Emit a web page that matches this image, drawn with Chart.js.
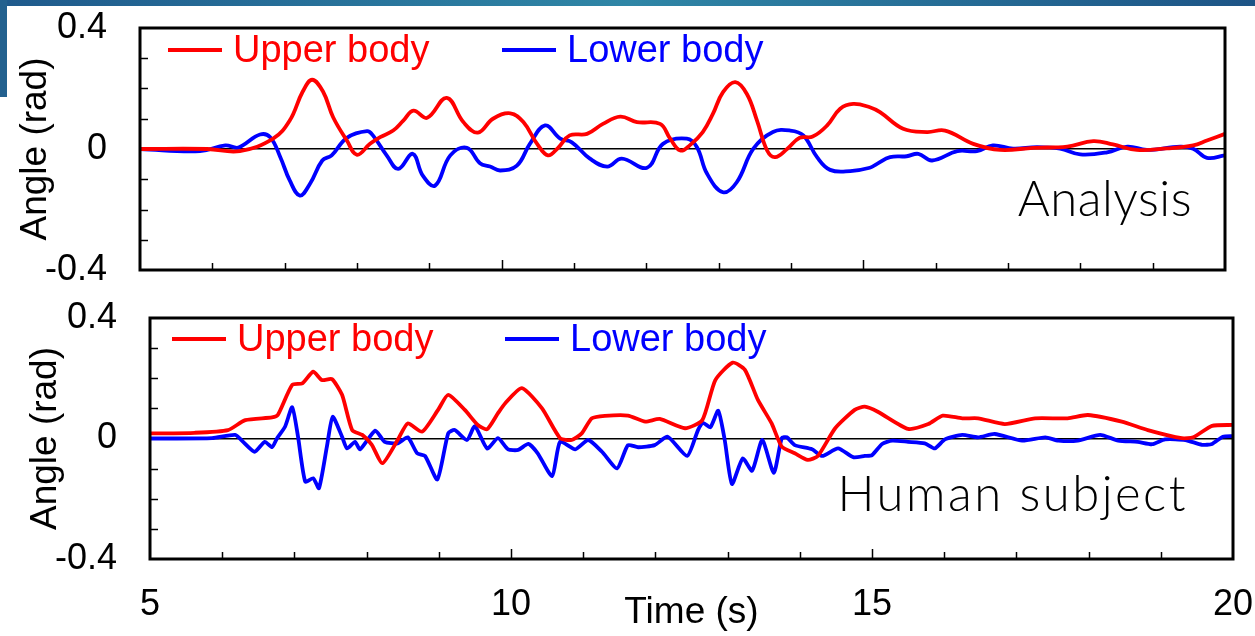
<!DOCTYPE html>
<html>
<head>
<meta charset="utf-8">
<script src="https://cdn.jsdelivr.net/npm/chart.js@4.4.1/dist/chart.umd.min.js"></script>
<style>
html, body { margin: 0; padding: 0; background: #fff; }
body { width: 1255px; height: 636px; position: relative; overflow: hidden; }
.wrap { position: absolute; left: 0; width: 1255px; }
#wrapA { top: 0; height: 290px; }
#wrapH { top: 290px; height: 346px; }
.barTop { position: absolute; left: 0; top: 0; width: 1255px; height: 6px; z-index: 2;
  background: linear-gradient(90deg, #1f5a8c, #2f86a6 50%, #1d5486); }
.barLeft { position: absolute; left: 0; top: 0; width: 7px; height: 97px; z-index: 2; background: #23618f; }
</style>
</head>
<body>
<div class="wrap" id="wrapA"><canvas id="chartA"></canvas></div>
<div class="wrap" id="wrapH"><canvas id="chartH"></canvas></div>
<div class="barTop"></div>
<div class="barLeft"></div>
<script>
// series names, panel captions, tick labels
const seriesNames = ["Upper body", "Lower body"];
const panelCaptions = ["Analysis", "Human subject"];
const xLabelValues = [5, 10, 15, 20];
const yLabelValues = [-0.4, 0, 0.4];

// [time (s), angle (rad)]
const analysisUpper = [
  [5.00, 0], [5.93, 0], [6.38, -0.007], [6.84, 0.034], [7.07, 0.094], [7.25, 0.19], [7.38, 0.229],
  [7.53, 0.19], [7.67, 0.105], [7.86, 0.028], [8.00, -0.019], [8.18, 0.017], [8.32, 0.039],
  [8.50, 0.061], [8.64, 0.094], [8.78, 0.127], [8.97, 0.103], [9.24, 0.169], [9.47, 0.089],
  [9.67, 0.054], [9.88, 0.1], [10.12, 0.118], [10.30, 0.089], [10.49, 0.017], [10.64, -0.021],
  [10.78, 0.004], [10.94, 0.045], [11.18, 0.05], [11.40, 0.083], [11.64, 0.107], [11.87, 0.089],
  [12.19, 0.083], [12.33, 0.034], [12.47, -0.005], [12.60, 0.012], [12.78, 0.056], [12.92, 0.116],
  [13.06, 0.188], [13.23, 0.221], [13.39, 0.182], [13.53, 0.094], [13.67, -0.005], [13.78, -0.027],
  [13.95, 0.001], [14.12, 0.037], [14.30, 0.041], [14.50, 0.078], [14.68, 0.133], [14.86, 0.149],
  [15.09, 0.138], [15.23, 0.122], [15.55, 0.067], [15.88, 0.056], [16.13, 0.061], [16.52, 0.017],
  [16.89, -0.003], [17.35, 0.004], [17.82, 0.008], [18.18, 0.026], [18.45, 0.015], [18.78, -0.003],
  [19.20, 0.002], [19.56, 0.012], [19.75, 0.028], [20.00, 0.05]
];
const analysisLower = [
  [5.00, 0], [5.83, -0.007], [6.18, 0.012], [6.34, 0.004], [6.42, 0.012], [6.66, 0.048], [6.80, 0.039],
  [6.94, -0.027], [7.07, -0.104], [7.21, -0.154], [7.35, -0.115], [7.52, -0.038], [7.65, -0.021],
  [7.86, 0.037], [8.14, 0.059], [8.22, 0.045], [8.41, -0.021], [8.57, -0.066], [8.77, -0.016],
  [8.91, -0.088], [9.08, -0.121], [9.29, -0.021], [9.52, 0.004], [9.70, -0.047], [9.84, -0.058],
  [9.98, -0.071], [10.21, -0.055], [10.39, 0.017], [10.60, 0.078], [10.81, 0.034], [10.97, 0.022],
  [11.22, -0.032], [11.46, -0.058], [11.66, -0.032], [12.01, -0.062], [12.23, 0.017], [12.56, 0.034],
  [12.70, 0.006], [12.84, -0.082], [13.06, -0.143], [13.25, -0.11], [13.48, 0.001], [13.75, 0.056],
  [13.99, 0.061], [14.17, 0.045], [14.36, -0.027], [14.54, -0.069], [14.82, -0.073], [15.09, -0.062],
  [15.19, -0.049], [15.37, -0.027], [15.60, -0.024], [15.76, -0.016], [15.95, -0.038], [16.30, -0.007],
  [16.57, -0.007], [16.79, 0.012], [17.07, 0.001], [17.40, 0.006], [17.72, 0.001], [18.00, -0.018],
  [18.37, -0.011], [18.65, 0.008], [18.92, -0.003], [19.38, 0.008], [19.56, 0.001], [19.75, -0.029],
  [20.00, -0.021]
];
const humanUpper = [
  [5.00, 0.017], [5.62, 0.019], [6.08, 0.028], [6.32, 0.061], [6.69, 0.07], [6.77, 0.078], [6.97, 0.178],
  [7.11, 0.183], [7.26, 0.222], [7.38, 0.194], [7.52, 0.197], [7.66, 0.145], [7.80, 0.028], [7.94, 0.012],
  [8.07, -0.02], [8.22, -0.082], [8.43, -0.005], [8.57, 0.05], [8.77, 0.023], [8.99, 0.095], [9.13, 0.145],
  [9.36, 0.095], [9.54, 0.045], [9.67, 0.031], [9.82, 0.084], [9.92, 0.117], [10.15, 0.167], [10.43, 0.1],
  [10.68, 0.001], [10.84, -0.005], [10.98, 0.017], [11.12, 0.067], [11.30, 0.075], [11.62, 0.076],
  [11.86, 0.056], [12.06, 0.065], [12.41, 0.034], [12.65, 0.061], [12.83, 0.194], [13.07, 0.252],
  [13.24, 0.228], [13.42, 0.128], [13.61, 0.05], [13.75, -0.027], [13.93, -0.049], [14.11, -0.071],
  [14.25, -0.058], [14.49, 0.034], [14.76, 0.095], [14.90, 0.106], [15.08, 0.089], [15.50, 0.032],
  [15.78, 0.048], [15.98, 0.076], [16.25, 0.067], [16.47, 0.067], [16.84, 0.048], [17.26, 0.067],
  [17.71, 0.067], [17.99, 0.078], [18.46, 0.056], [18.82, 0.028], [19.29, 0.001], [19.45, 0.004],
  [19.71, 0.042], [20.00, 0.045]
];
const humanLower = [
  [5.00, 0], [5.86, 0.001], [6.18, 0.012], [6.29, -0.011], [6.45, -0.044], [6.59, -0.011], [6.69, -0.029],
  [6.76, 0.001], [6.87, 0.039], [6.97, 0.104], [7.05, 0.006], [7.15, -0.143], [7.26, -0.132], [7.34, -0.165],
  [7.45, -0.027], [7.53, 0.072], [7.66, 0.006], [7.73, -0.033], [7.84, -0.011], [7.91, -0.036], [8.12, 0.026],
  [8.25, -0.011], [8.43, -0.016], [8.57, 0.004], [8.70, -0.049], [8.81, -0.058], [8.98, -0.136], [9.13, 0.017],
  [9.22, 0.028], [9.39, -0.005], [9.50, 0.041], [9.67, -0.033], [9.82, 0.001], [9.96, -0.036], [10.10, -0.038],
  [10.24, -0.018], [10.37, -0.049], [10.57, -0.125], [10.68, -0.011], [10.89, -0.036], [11.07, -0.005],
  [11.26, -0.044], [11.47, -0.099], [11.62, -0.022], [11.76, -0.029], [11.99, -0.022], [12.17, 0.006],
  [12.44, -0.058], [12.59, 0.028], [12.66, 0.052], [12.76, 0.037], [12.87, 0.092], [12.96, -0.005],
  [13.06, -0.151], [13.21, -0.066], [13.34, -0.107], [13.48, -0.005], [13.64, -0.114], [13.75, 0.001],
  [13.82, 0.004], [13.93, -0.022], [14.17, -0.036], [14.31, -0.058], [14.53, -0.033], [14.74, -0.062],
  [14.90, -0.058], [15.00, -0.055], [15.14, -0.018], [15.28, -0.007], [15.50, -0.011], [15.73, -0.016],
  [15.87, -0.033], [16.01, -0.003], [16.25, 0.012], [16.47, 0.004], [16.70, 0.015], [17.08, -0.007],
  [17.40, 0.004], [17.58, -0.007], [17.85, -0.007], [18.16, 0.012], [18.41, -0.007], [18.68, -0.011],
  [18.88, -0.019], [19.06, -0.003], [19.34, -0.005], [19.57, -0.021], [19.71, -0.018], [19.86, 0.006],
  [20.00, 0.008]
];

const FONT = "'Liberation Sans', Arial, sans-serif";
Chart.defaults.font.family = FONT;
Chart.defaults.color = "#000";

// inner ticks, frame, legend and panel caption
const panelDeco = {
  id: "panelDeco",
  afterDraw(chart, args, o) {
    const { ctx, chartArea: a, scales: { x, y } } = chart;
    const seg = (x1, y1, x2, y2) => { ctx.beginPath(); ctx.moveTo(x1, y1); ctx.lineTo(x2, y2); ctx.stroke(); };
    ctx.save();
    ctx.strokeStyle = "#000";
    ctx.lineWidth = 1.5;
    for (let k = -3; k <= 3; k++) {
      if (k === 0) continue;
      const py = Math.round(y.getPixelForValue(k / 10)) + 0.5;
      seg(a.left, py, a.left + 8, py);
    }
    for (let t = 6; t < 20; t++) {
      const px = Math.round(x.getPixelForValue(t)) + 0.5;
      seg(px, a.bottom, px, a.bottom - (t % 5 === 0 ? 10 : 7));
    }
    ctx.lineWidth = 3;
    ctx.strokeRect(a.left, a.top, a.width, a.height);

    ctx.font = "38px " + FONT;
    ctx.textBaseline = "middle";
    ctx.textAlign = "left";
    chart.data.datasets.forEach((ds, i) => {
      const lx = a.left + o.legendX[i], ly = a.top + o.legendY;
      ctx.strokeStyle = ds.borderColor;
      ctx.lineWidth = 4;
      seg(lx, ly, lx + 54, ly);
      ctx.fillStyle = ds.borderColor;
      ctx.fillText(ds.label, lx + 65, ly + 2);
    });

    ctx.font = "300 49px Lato, 'Open Sans', sans-serif";
    ctx.letterSpacing = o.captionSpacing;
    ctx.textAlign = "right";
    ctx.fillStyle = "#000";
    ctx.fillText(o.caption, a.right - o.captionRight, a.top + o.captionY);
    ctx.restore();
  }
};

function toPoints(pairs) {
  return pairs.map(p => ({ x: p[0], y: p[1] }));
}

// keep tick labels from pushing the plot area around
function noPad(s) {
  s.paddingLeft = 0; s.paddingRight = 0; s.paddingTop = 0; s.paddingBottom = 0;
}

function makePanel(id, upper, lower, cfg) {
  return new Chart(document.getElementById(id), {
    type: "line",
    data: {
      datasets: [
        { label: seriesNames[0], data: toPoints(upper), borderColor: "#ff0000", borderWidth: 3.8,
          pointRadius: 0, tension: cfg.tension },
        { label: seriesNames[1], data: toPoints(lower), borderColor: "#0000ff", borderWidth: 3.8,
          pointRadius: 0, tension: cfg.tension }
      ]
    },
    options: {
      responsive: true,
      maintainAspectRatio: false,
      animation: false,
      layout: { padding: { top: 28, right: cfg.padRight, left: 0, bottom: 0 } },
      scales: {
        x: {
          type: "linear", min: 5, max: 20,
          afterBuildTicks: s => { s.ticks = xLabelValues.map(v => ({ value: v })); },
          afterFit: s => { s.height = cfg.xAxisH; noPad(s); },
          ticks: { display: cfg.showX, font: { size: 36 }, padding: 24, maxRotation: 0, autoSkip: false },
          grid: { display: false, drawTicks: false },
          border: { display: false },
          title: { display: cfg.showX, text: "Time (s)", font: { size: 37 }, padding: { top: 0, bottom: 1 } }
        },
        y: {
          min: -0.4, max: 0.4,
          afterBuildTicks: s => { s.ticks = yLabelValues.map(v => ({ value: v })); },
          afterFit: s => { s.width = cfg.yAxisW; noPad(s); },
          ticks: { font: { size: 36 }, padding: 33, callback: v => (v === 0 ? "0" : (Math.round(v * 10) / 10).toFixed(1)) },
          grid: {
            drawTicks: false,
            lineWidth: 1.5,
            color: c => (c.tick && c.tick.value === 0 ? "#000" : "rgba(0,0,0,0)")
          },
          border: { display: false },
          title: { display: true, text: "Angle (rad)", font: { size: 37 }, padding: { top: cfg.yTitlePad, bottom: 0 } }
        }
      },
      plugins: {
        legend: { display: false },
        tooltip: { enabled: false },
        panelDeco: cfg.deco
      }
    },
    plugins: [panelDeco]
  });
}

makePanel("chartA", analysisUpper, analysisLower, {
  tension: 0.4, padRight: 30, xAxisH: 20, yAxisW: 140, showX: false, yTitlePad: 14,
  deco: { legendX: [28, 362], legendY: 22, caption: panelCaptions[0], captionRight: 33, captionY: 172, captionSpacing: "0.5px" }
});
makePanel("chartH", humanUpper, humanLower, {
  tension: 0.2, padRight: 22, xAxisH: 77, yAxisW: 150, showX: true, yTitlePad: 24,
  deco: { legendX: [22, 355], legendY: 21, caption: panelCaptions[1], captionRight: 45, captionY: 177, captionSpacing: "2.5px" }
});
</script>
</body>
</html>
